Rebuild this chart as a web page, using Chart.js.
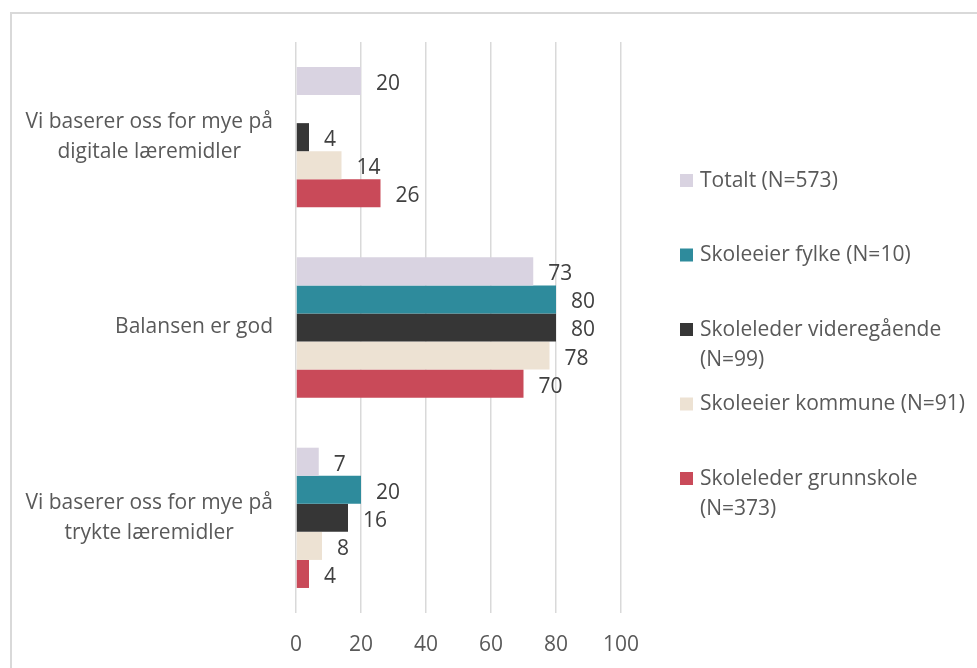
<!DOCTYPE html>
<html>
<head>
<meta charset="utf-8">
<script src="https://cdn.jsdelivr.net/npm/chart.js@4/dist/chart.umd.min.js"></script>
<style>
	html, body { margin: 0; background: #fff; overflow: hidden; }
	canvas { display: block; }
</style>
</head>
<body>
<canvas id="myChart" width="977" height="668"></canvas>
<script>
const categories = [
	["Vi baserer oss for mye på", "digitale læremidler"],
	["Balansen er god"],
	["Vi baserer oss for mye på", "trykte læremidler"],
];
const seriesNames = [
	["Totalt (N=573)"],
	["Skoleeier fylke (N=10)"],
	["Skoleleder videregående", "(N=99)"],
	["Skoleeier kommune (N=91)"],
	["Skoleleder grunnskole", "(N=373)"],
];
const totalt = [20, 73, 7];
const fylke = [null, 80, 20];
const videregaende = [4, 80, 16];
const kommune = [14, 78, 8];
const grunnskole = [26, 70, 4];
const xTicks = [0, 20, 40, 60, 80, 100];
const colors = ["#d9d3e1", "#2e8b9c", "#363636", "#ede2d3", "#c94a59"];

const font = "Open Sans";
const fontSize = 21;
const textColor = "#595959";

// outer chart frame (only top and left edges are in view)
const frame = {
	id: "frame",
	beforeDraw(chart) {
		const ctx = chart.ctx;
		ctx.save();
		ctx.strokeStyle = "#d9d9d9";
		ctx.lineWidth = 2;
		ctx.beginPath();
		ctx.moveTo(11, chart.height);
		ctx.lineTo(11, 13);
		ctx.lineTo(chart.width, 13);
		ctx.stroke();
		ctx.restore();
	},
};

// value labels next to the bars
const valueLabels = {
	id: "valueLabels",
	afterDatasetsDraw(chart) {
		const ctx = chart.ctx;
		ctx.save();
		ctx.font = `${fontSize}px "${font}"`;
		ctx.fillStyle = "#404040";
		ctx.textBaseline = "middle";
		ctx.textAlign = "left";
		chart.data.datasets.forEach((ds, i) => {
			chart.getDatasetMeta(i).data.forEach((bar, j) => {
				if (ds.data[j] == null) return;
				ctx.fillText(ds.data[j], bar.x + 15, bar.y + 3);
			});
		});
		ctx.restore();
	},
};

// category labels: block right aligned, lines centered in block
const catLabels = {
	id: "catLabels",
	afterDraw(chart) {
		const ctx = chart.ctx;
		const yScale = chart.scales.y;
		ctx.save();
		ctx.font = `${fontSize}px "${font}"`;
		ctx.fillStyle = textColor;
		ctx.textBaseline = "middle";
		ctx.textAlign = "center";
		categories.forEach((lines, i) => {
			const w = Math.max(...lines.map((l) => ctx.measureText(l).width));
			const cx = chart.chartArea.left - 23 - w / 2;
			const cy = yScale.getPixelForValue(i);
			const lh = 30;
			lines.forEach((l, k) => {
				ctx.fillText(l, cx, cy + (k - (lines.length - 1) / 2) * lh);
			});
		});
		ctx.restore();
	},
};

// legend on the right, with wrapped labels
const sideLegend = {
	id: "sideLegend",
	afterDraw(chart) {
		const ctx = chart.ctx;
		ctx.save();
		ctx.font = `${fontSize}px "${font}"`;
		ctx.textBaseline = "middle";
		ctx.textAlign = "left";
		let y = 181;
		chart.data.datasets.forEach((ds, i) => {
			ctx.fillStyle = ds.backgroundColor;
			ctx.fillRect(680, y - 7, 13, 13);
			ctx.fillStyle = textColor;
			seriesNames[i].forEach((l, k) => ctx.fillText(l, 700, y + k * 30));
			y += 74.5;
		});
		ctx.restore();
	},
};

const series = [totalt, fylke, videregaende, kommune, grunnskole];

let ctx = document.querySelector("#myChart").getContext("2d");
let chart = new Chart(ctx, {
	type: "bar",
	data: {
		labels: categories.map((c) => c.join(" ")),
		datasets: series.map((d, i) => ({
			label: seriesNames[i].join(" "),
			data: d,
			backgroundColor: colors[i],
			categoryPercentage: 0.737,
			barPercentage: 1,
		})),
	},
	options: {
		indexAxis: "y",
		responsive: false,
		animation: false,
		layout: { padding: { top: 42, right: 356, left: 0, bottom: 0 } },
		plugins: { legend: { display: false }, tooltip: { enabled: false } },
		scales: {
			x: {
				min: 0,
				max: 100,
				afterBuildTicks: (scale) => {
					scale.ticks = xTicks.map((v) => ({ value: v }));
				},
				afterFit: (scale) => {
					scale.height = 55;
				},
				grid: { color: "#d9d9d9", lineWidth: 1.5, drawTicks: false },
				border: { display: false },
				ticks: {
					padding: 19,
					color: textColor,
					font: { family: font, size: fontSize },
				},
			},
			y: {
				afterFit: (scale) => {
					scale.width = 296;
				},
				grid: { display: false },
				border: { display: false },
				ticks: { display: false },
			},
		},
	},
	plugins: [frame, valueLabels, catLabels, sideLegend],
});
</script>
</body>
</html>
